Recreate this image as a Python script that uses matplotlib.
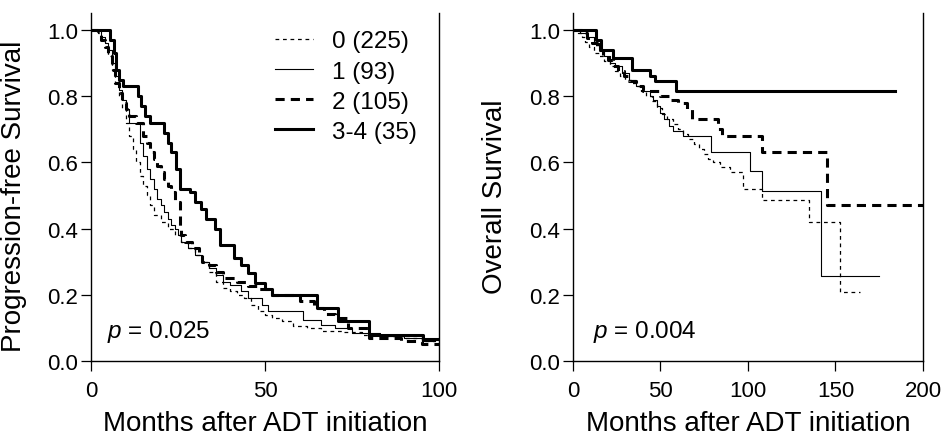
import matplotlib
matplotlib.use("Agg")
import matplotlib.pyplot as plt

plt.rcParams['font.family'] = ['Liberation Sans', 'DejaVu Sans']
plt.rcParams['mathtext.fontset'] = 'custom'
plt.rcParams['mathtext.it'] = 'Liberation Sans:italic'
plt.rcParams['mathtext.rm'] = 'Liberation Sans'

# ---------------- data: progression-free survival ----------------
pfs_t0 = [0, 2, 3, 4, 5, 6, 7, 8, 9, 10, 11, 12, 13, 14, 15, 16, 17, 18, 20, 22, 24, 26, 28,
          30, 32, 34, 36, 38, 40, 42, 44, 46, 48, 50, 52, 55, 58, 62, 66, 72, 78, 84, 90, 95, 99]
pfs_s0 = [1.0, 0.99, 0.97, 0.95, 0.92, 0.88, 0.84, 0.80, 0.76, 0.72, 0.68, 0.64, 0.60, 0.56,
          0.53, 0.50, 0.47, 0.44, 0.42, 0.40, 0.38, 0.36, 0.34, 0.32, 0.30, 0.27, 0.24, 0.22,
          0.21, 0.20, 0.19, 0.17, 0.15, 0.14, 0.13, 0.12, 0.105, 0.10, 0.092, 0.088, 0.08,
          0.075, 0.07, 0.06, 0.06]

pfs_t1 = [0, 3, 4, 5, 6, 7, 8, 9, 10, 11, 14, 15, 16, 17, 18, 19, 20, 21, 22, 23, 24, 25, 26,
          28, 30, 32, 34, 36, 38, 40, 43, 45, 49, 51, 61, 66, 70, 75, 83, 90, 95, 99]
pfs_s1 = [1.0, 0.98, 0.96, 0.94, 0.90, 0.86, 0.82, 0.79, 0.76, 0.72, 0.66, 0.62, 0.58, 0.55,
          0.52, 0.49, 0.47, 0.45, 0.43, 0.41, 0.40, 0.38, 0.36, 0.34, 0.32, 0.30, 0.28, 0.26,
          0.24, 0.23, 0.21, 0.19, 0.17, 0.15, 0.125, 0.11, 0.10, 0.085, 0.075, 0.07, 0.06, 0.06]

pfs_t2 = [0, 2, 3, 4, 5, 6, 7, 8, 9, 10, 11, 13, 15, 16, 17, 18, 19, 20, 21, 22, 23, 24, 25.5,
          26, 27, 29, 31, 32, 34, 36, 38, 42, 45, 48, 52, 60, 64, 67, 70, 74, 80, 89, 95, 100]
pfs_s2 = [1.0, 0.99, 0.97, 0.95, 0.92, 0.88, 0.84, 0.81, 0.78, 0.76, 0.74, 0.72, 0.68, 0.66,
          0.63, 0.61, 0.59, 0.57, 0.55, 0.53, 0.51, 0.48, 0.40, 0.38, 0.36, 0.34, 0.32, 0.30,
          0.29, 0.27, 0.25, 0.24, 0.227, 0.217, 0.20, 0.182, 0.16, 0.142, 0.13, 0.10, 0.071,
          0.061, 0.05, 0.05]

pfs_t3 = [0, 5.5, 6.5, 7.2, 8, 9.2, 13.6, 14.5, 15.5, 17, 21, 22, 23, 24.5, 25.5, 28.4, 30,
          31.5, 33, 35.5, 37, 41, 43, 45, 47, 50, 52, 65, 71, 80, 95.5, 100]
pfs_s3 = [1.0, 0.97, 0.93, 0.88, 0.85, 0.83, 0.80, 0.77, 0.74, 0.72, 0.69, 0.66, 0.63, 0.58,
          0.52, 0.51, 0.48, 0.46, 0.43, 0.40, 0.35, 0.31, 0.29, 0.265, 0.237, 0.217, 0.20,
          0.16, 0.12, 0.08, 0.067, 0.067]

# ---------------- data: overall survival ----------------
os_t0 = [0, 3, 5, 7, 9, 12, 15, 18, 21, 24, 27, 30, 33, 36, 39, 42, 45, 48, 51, 54, 57, 60,
         63, 66, 69, 72, 75, 77, 80, 84, 90, 97, 108, 135, 152.6, 164]
os_s0 = [1.0, 0.99, 0.98, 0.965, 0.95, 0.93, 0.92, 0.905, 0.89, 0.875, 0.86, 0.85, 0.84, 0.83,
         0.815, 0.80, 0.785, 0.765, 0.745, 0.73, 0.715, 0.70, 0.685, 0.67, 0.655, 0.64, 0.625,
         0.61, 0.60, 0.585, 0.57, 0.52, 0.485, 0.42, 0.208, 0.208]

os_t1 = [0, 4, 8, 12, 15, 18, 21, 24, 28, 32, 36, 40, 44, 46, 48, 50, 52, 55, 57, 63, 79,
         101, 108, 142, 175]
os_s1 = [1.0, 0.99, 0.98, 0.96, 0.94, 0.92, 0.90, 0.89, 0.87, 0.85, 0.83, 0.815, 0.80, 0.79,
         0.77, 0.75, 0.73, 0.71, 0.695, 0.68, 0.63, 0.575, 0.515, 0.258, 0.258]

os_t2 = [0, 5, 8, 11, 14, 17, 20, 23, 26, 29, 32, 36, 40, 50, 55, 60, 65, 68, 83, 85, 108,
         145, 200]
os_s2 = [1.0, 0.99, 0.975, 0.96, 0.94, 0.92, 0.91, 0.89, 0.875, 0.86, 0.845, 0.83, 0.815,
         0.80, 0.79, 0.78, 0.76, 0.73, 0.70, 0.68, 0.63, 0.47, 0.47]

os_t3 = [0, 13, 16, 23, 34, 44, 47, 59, 184]
os_s3 = [1.0, 0.97, 0.94, 0.915, 0.88, 0.86, 0.845, 0.815, 0.815]

group_labels = ["0 (225)", "1 (93)", "2 (105)", "3-4 (35)"]
pfs_series = [(pfs_t0, pfs_s0), (pfs_t1, pfs_s1), (pfs_t2, pfs_s2), (pfs_t3, pfs_s3)]
os_series = [(os_t0, os_s0), (os_t1, os_s1), (os_t2, os_s2), (os_t3, os_s3)]

y_ticks = [0.0, 0.2, 0.4, 0.6, 0.8, 1.0]
pfs_xticks = [0, 50, 100]
os_xticks = [0, 50, 100, 150, 200]
p_left = "0.025"
p_right = "0.004"

# ---------------- styling ----------------
styles = [
    dict(color='black', lw=0.9, ls=(0, (3, 3))),
    dict(color='black', lw=0.8, ls='-'),
    dict(color='black', lw=2.2, ls=(0, (3, 2))),
    dict(color='black', lw=2.2, ls='-'),
]

fig = plt.figure(figsize=(9.43, 4.35), dpi=100)
axL = fig.add_axes([0.0965, 0.1678, 0.369, 0.799])
axR = fig.add_axes([0.6076, 0.1678, 0.3712, 0.799])


def style_axes(ax, xticks, xmax, ylabel, ylab_x):
    ax.set_xlim(0, xmax)
    ax.set_ylim(0, 1.05)
    ax.set_xticks(xticks)
    ax.set_yticks(y_ticks)
    ax.set_yticklabels([f"{v:.1f}" for v in y_ticks])
    ax.spines['top'].set_visible(False)
    for s in ['left', 'bottom', 'right']:
        ax.spines[s].set_linewidth(1.0)
    ax.tick_params(direction='out', length=7.5, width=0.9, labelsize=16, pad=2)
    ax.tick_params(axis='x', pad=6)
    ax.tick_params(right=False)
    ax.set_xlabel("Months after ADT initiation", fontsize=20)
    ax.xaxis.set_label_coords(0.5, -0.14)
    ax.set_ylabel(ylabel, fontsize=20)
    ax.yaxis.set_label_coords(ylab_x, 0.476)


for (t, s), st, lab in zip(pfs_series, styles, group_labels):
    axL.step(t, s, where='post', label=lab, **st)
for (t, s), st in zip(os_series, styles):
    axR.step(t, s, where='post', **st)

style_axes(axL, pfs_xticks, 100, "Progression-free Survival", -0.185)
style_axes(axR, os_xticks, 200, "Overall Survival", -0.185)

axL.text(0.046, 0.086, r"$p$ = " + p_left, transform=axL.transAxes, fontsize=17.5,
         va='center', ha='left')
axR.text(0.057, 0.086, r"$p$ = " + p_right, transform=axR.transAxes, fontsize=17.5,
         va='center', ha='left')

axL.legend(loc='upper left', bbox_to_anchor=(0.515, 0.965), frameon=False, fontsize=17.5,
           handlelength=1.55, handletextpad=0.8, labelspacing=0.33, borderpad=0.2,
           borderaxespad=0)

fig.savefig("out.png", dpi=100)
